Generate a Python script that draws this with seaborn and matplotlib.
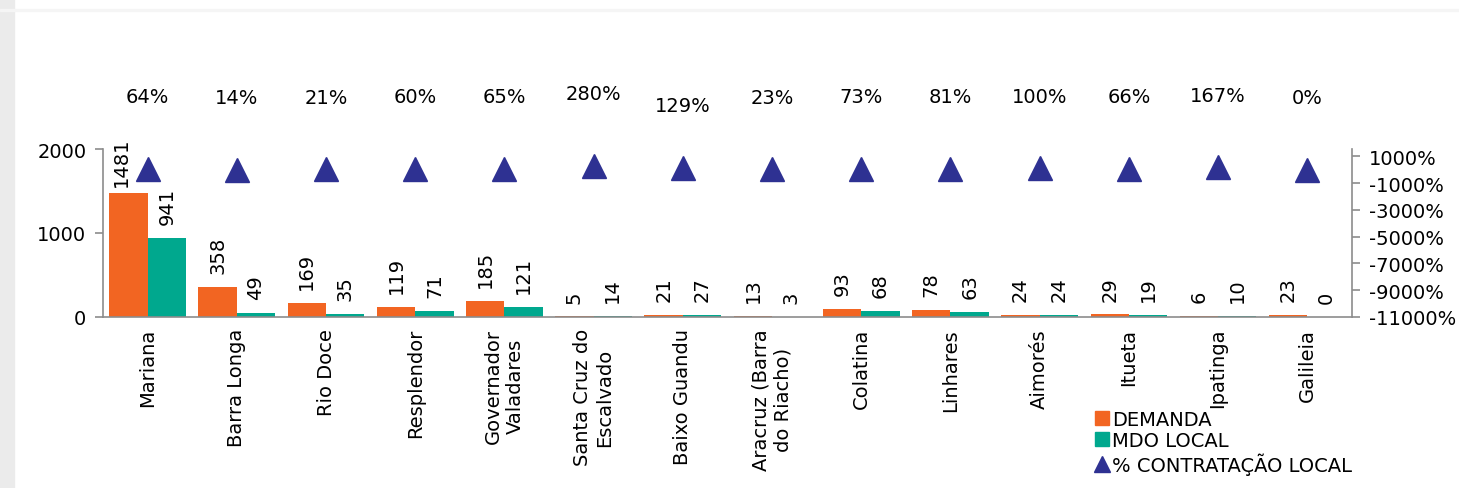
import numpy as np
import pandas as pd
import matplotlib
matplotlib.use("Agg")
import matplotlib.pyplot as plt
from matplotlib.lines import Line2D
from matplotlib.patches import Rectangle
import seaborn as sns

# dados
cidades = ["Mariana", "Barra Longa", "Rio Doce", "Resplendor", "Governador\nValadares",
           "Santa Cruz do\nEscalvado", "Baixo Guandu", "Aracruz (Barra\ndo Riacho)",
           "Colatina", "Linhares", "Aimorés", "Itueta", "Ipatinga", "Galileia"]
demanda = [1481, 358, 169, 119, 185, 5, 21, 13, 93, 78, 24, 29, 6, 23]
mdo_local = [941, 49, 35, 71, 121, 14, 27, 3, 68, 63, 24, 19, 10, 0]
pct_contratacao = [64, 14, 21, 60, 65, 280, 129, 23, 73, 81, 100, 66, 167, 0]

LARANJA = "#F26522"
VERDE = "#00A88E"
AZUL = "#2E3192"
CINZA = "#8c8c8c"
FS = 14

sns.set_theme(style="white")
plt.rcParams["font.family"] = ["DejaVu Sans"]
plt.rcParams["font.size"] = FS
plt.rcParams["text.color"] = "black"
plt.rcParams["xtick.color"] = "black"
plt.rcParams["ytick.color"] = "black"

df = pd.DataFrame({
    "cidade": cidades * 2,
    "valor": demanda + mdo_local,
    "serie": ["DEMANDA"] * len(cidades) + ["MDO LOCAL"] * len(cidades),
})

fig = plt.figure(figsize=(14.59, 4.89), dpi=100)
ax = fig.add_axes([0.0706, 0.350, 0.856, 0.343])

sns.barplot(data=df, x="cidade", y="valor", hue="serie", order=cidades,
            palette=[LARANJA, VERDE], width=0.86, dodge=True, legend=False,
            saturation=1, ax=ax, linewidth=0)

# rótulos das barras
for cont in ax.containers:
    for barra in cont:
        h = barra.get_height()
        dx, dy = (0, 10)
        if h > 1400:
            dx, dy = (-5, 5)
        ax.annotate(f"{int(round(h))}", (barra.get_x() + barra.get_width() / 2, h),
                    xytext=(dx, dy), textcoords="offset points", rotation=90,
                    ha="center", va="bottom", fontsize=FS, color="black",
                    annotation_clip=False)

ax.set_xlim(-0.5, len(cidades) - 0.5)
ax.set_ylim(0, 2000)
ax.set_yticks([0, 1000, 2000])
ax.set_xlabel("")
ax.set_ylabel("")
ax.set_xticks(np.arange(len(cidades)))
ax.set_xticklabels(cidades, rotation=90, ha="center", va="top", fontsize=FS,
                   multialignment="center")
ax.tick_params(axis="x", length=0, pad=8)
ax.tick_params(axis="y", length=6, color=CINZA, width=1.2, pad=6, labelsize=FS)
ax.set_xticks(np.arange(len(cidades) + 1) - 0.5, minor=True)
ax.tick_params(axis="x", which="minor", length=6, color=CINZA, width=1.2)
for lado in ["top", "right"]:
    ax.spines[lado].set_visible(False)
for lado in ["left", "bottom"]:
    ax.spines[lado].set_color(CINZA)
    ax.spines[lado].set_linewidth(1.2)

# eixo secundário com % contratação local
ax2 = ax.twinx()
pos = np.arange(len(cidades))
ax2.plot(pos, pct_contratacao, linestyle="none", marker="^", markersize=17,
         color=AZUL)
ax2.set_ylim(-11000, 1540)
ax2.set_yticks(np.arange(-11000, 1001, 2000))
ax2.set_yticklabels([f"{v}%" for v in np.arange(-11000, 1001, 2000)])
ax2.tick_params(axis="y", length=6, color=CINZA, width=1.2, pad=6, labelsize=FS)
for lado in ["top", "left", "bottom"]:
    ax2.spines[lado].set_visible(False)
ax2.spines["right"].set_color(CINZA)
ax2.spines["right"].set_linewidth(1.2)
ax2.grid(False)

for x, p in zip(pos, pct_contratacao):
    dy = 52
    if p == 129:
        dy = 45
    ax2.annotate(f"{p}%", (x, p), xytext=(0, dy), textcoords="offset points",
                 ha="center", va="center", fontsize=FS)

handles = [
    Line2D([], [], linestyle="none", marker="s", markersize=10, color=LARANJA),
    Line2D([], [], linestyle="none", marker="s", markersize=10, color=VERDE),
    Line2D([], [], linestyle="none", marker="^", markersize=12, color=AZUL),
]
fig.legend(handles, ["DEMANDA", "MDO LOCAL", "% CONTRATAÇÃO LOCAL"],
           loc="upper left", bbox_to_anchor=(0.742, 0.18), frameon=False,
           fontsize=FS, handletextpad=0.0, handlelength=1.0, labelspacing=0.12,
           borderpad=0)

# faixa cinza da moldura à esquerda
fig.patches.append(Rectangle((0, 0), 14 / 1459, 1, transform=fig.transFigure,
                             color="#ebebeb", zorder=-1))
fig.patches.append(Rectangle((0, 0.975), 1, 0.004, transform=fig.transFigure,
                             color="#f5f5f5", zorder=-1))

fig.savefig("out.png", dpi=100)
